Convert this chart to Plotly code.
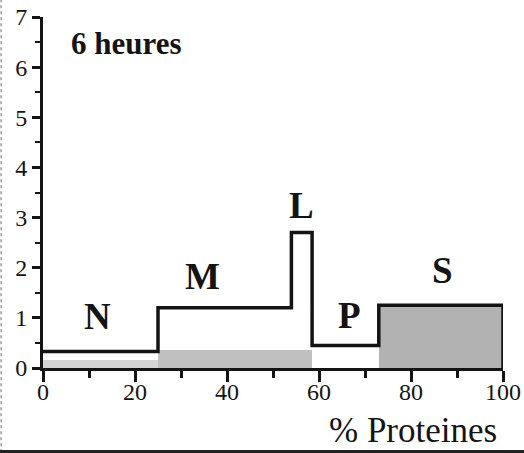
import plotly.graph_objects as go

# Class boundaries along the protein axis (%), one class per interval
edges = [0, 25, 54, 58.5, 73, 100]
classes = ["N", "M", "L", "P", "S"]
# Outline height of each class
heights = [0.33, 1.2, 2.7, 0.45, 1.25]
# Shaded part of each class
shaded = [0.16, 0.35, 0.35, 0.0, 1.25]
shade_colors = ["#d4d4d4", "#c0c0c0", "#c0c0c0", "#ffffff", "#b2b2b2"]
# Where each class letter sits (x, y in data units)
label_x = [11.9, 34.7, 56.3, 66.6, 86.9]
label_y = [1.03, 1.82, 3.25, 1.05, 1.94]

x_ticks = [0, 20, 40, 60, 80, 100]
y_ticks = [0, 1, 2, 3, 4, 5, 6, 7]

SERIF = "Liberation Serif"
INK = "#141414"

left = edges[:-1]
widths = [b - a for a, b in zip(edges[:-1], edges[1:])]

fig = go.Figure()

# shaded fill inside the classes
fig.add_trace(go.Bar(
    x=left, y=shaded, width=widths, offset=0,
    marker=dict(color=shade_colors, line=dict(width=0)),
    showlegend=False, hoverinfo="skip",
))

# stepped outline of the distribution
step_x = edges[:-1] + [edges[-1], edges[-1]]
step_y = heights + [heights[-1], 0]
fig.add_trace(go.Scatter(
    x=step_x, y=step_y, mode="lines", line_shape="hv",
    line=dict(color=INK, width=3.5),
    showlegend=False, hoverinfo="skip", cliponaxis=False,
))

annotations = [
    dict(x=lx, y=ly, xref="x", yref="y", text=f"<b>{c}</b>", showarrow=False,
         font=dict(family=SERIF, size=37, color=INK))
    for c, lx, ly in zip(classes, label_x, label_y)
]
annotations.append(dict(
    x=0.056, y=0.925, xref="paper", yref="paper", xanchor="left", yanchor="middle",
    text="<b>6 heures</b>", showarrow=False,
    font=dict(family=SERIF, size=31, color=INK)))
annotations.append(dict(
    x=0.992, y=-0.178, xref="paper", yref="paper", xanchor="right", yanchor="middle",
    text="% Proteines", showarrow=False,
    font=dict(family=SERIF, size=35, color=INK)))

fig.update_layout(
    width=524, height=453,
    margin=dict(l=43, r=21, t=17, b=85, autoexpand=False),
    paper_bgcolor="white", plot_bgcolor="white",
    bargap=0,
    font=dict(family=SERIF, color=INK),
    annotations=annotations,
    shapes=[
        # outer frame: dotted left edge, solid bottom edge
        dict(type="line", xref="paper", yref="paper",
             x0=-0.091, x1=-0.091, y0=-0.24, y1=1.05,
             line=dict(color="#9a9a9a", width=1.5, dash="dot")),
        dict(type="line", xref="paper", yref="paper",
             x0=-0.095, x1=1.05, y0=-0.238, y1=-0.238,
             line=dict(color="#222222", width=3)),
    ],
)

fig.update_xaxes(
    range=[0, 100], tickvals=x_ticks, ticktext=[str(v) for v in x_ticks],
    showline=True, linecolor=INK, linewidth=3,
    ticks="outside", ticklen=11, tickwidth=2.5, tickcolor=INK,
    ticklabelstandoff=-11,
    minor=dict(ticks="outside", dtick=10, ticklen=7, tickwidth=2.5, tickcolor=INK),
    showgrid=False, zeroline=False, automargin=False,
    tickfont=dict(family=SERIF, size=24, color=INK),
)
fig.update_yaxes(
    range=[0, 7], tickvals=y_ticks, ticktext=[str(v) for v in y_ticks],
    showline=True, linecolor=INK, linewidth=3,
    ticks="outside", ticklen=8, tickwidth=2.5, tickcolor=INK,
    minor=dict(ticks="outside", dtick=0.5, ticklen=5, tickwidth=2, tickcolor=INK),
    showgrid=False, zeroline=False, automargin=False,
    tickfont=dict(family=SERIF, size=24, color=INK),
)

fig.write_html("out.html")
